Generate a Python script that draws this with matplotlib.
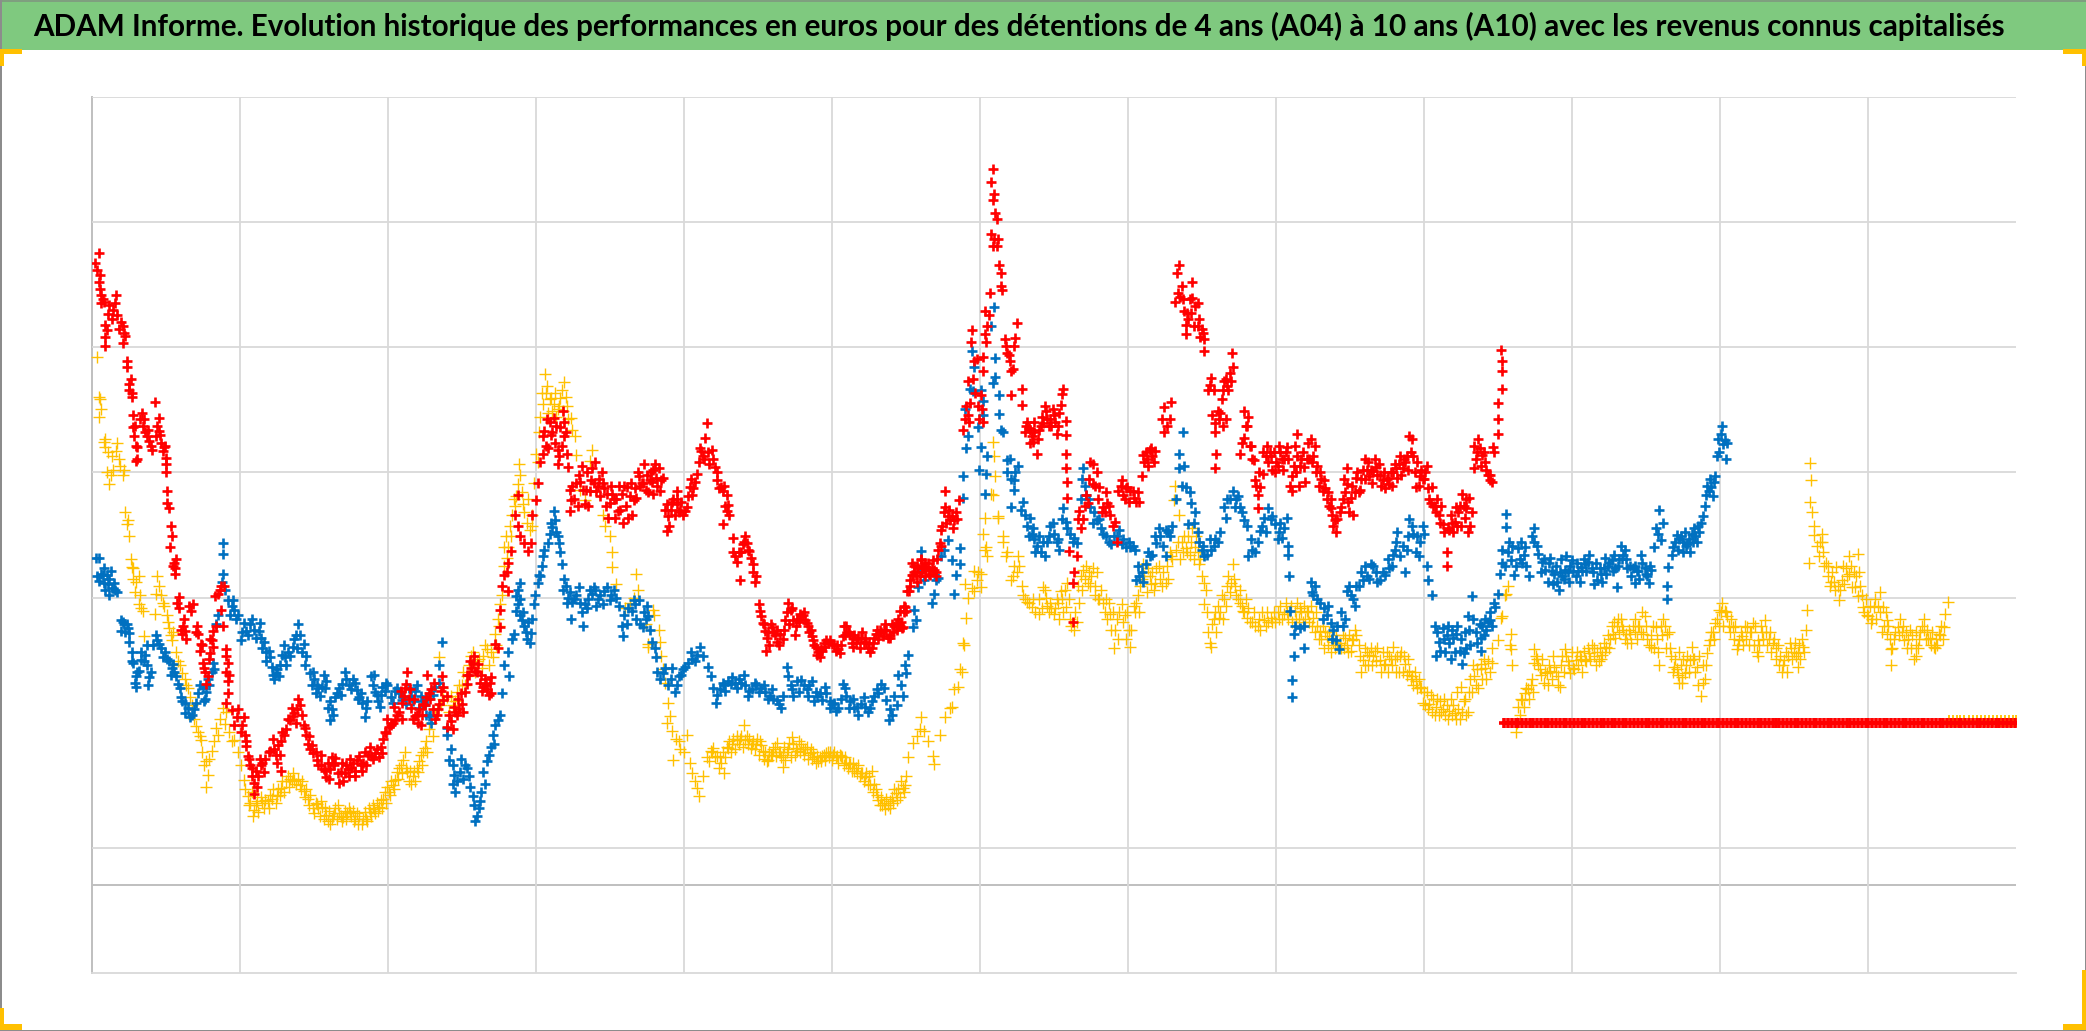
import matplotlib
matplotlib.use("Agg")
import matplotlib.pyplot as plt
from matplotlib.patches import Rectangle

TITLE = "ADAM Informe. Evolution historique des performances en euros pour des détentions de 4 ans (A04) à 10 ans (A10) avec les revenus connus capitalisés"

red_a = [(2,467),(5,475),(5,453),(6,448),(7,443),(8,440),(7,437),(9,438),(18,443),(17,437),(16,432),(12,429),(21.5,423),(23,420),(25,412.6),(23.5,407),(10,421),(10,412),(10,405),(11,417),
(26.5,394),(26.5,389.5),(28,376.6),(30,369.6),(30,367),(30.5,353.5),(30.5,344),(31.5,337),(33,330),(34,329),(33,318.6),(37.5,355),(39,350),(40,340),(41.5,337),(43,333.6),(45,326.6),
(47,362.6),(50,351),(50,341),(48,337),(52,332),(54,329),(55.7,321),(55.7,316),(55.7,310.5),(56.7,296),(56.4,287),(57.7,283.6),(59.4,269.6),(60.4,262.6),(58.7,254),(61.7,242),(62.4,238),(62.4,233.6),
(65.4,216.5),(65.4,208),(68.5,195),(70,190.6),(68,188.5),(75.8,211),(74.5,205.7),(79,195),(80,188.5),(82,181.5),(90.6,190.6),(89,185),(89,174.5),(91,179),(95,219),(97,224.5),(92.6,217.5),(97,207),(98.6,195),
(83.5,167),(84,163),(85,160),(86,151),(100.7,172),(102,167),(101,160),(102,153),(102,144),(101,137),(105,131.5),(109,126),(114,126),(107,120),(112,115),(115,113),(115.5,104.6),(117,97),(119,90),
(120.5,82),(122,77),(125,82),(123,86),(127,90),(129,85),(121.5,68.6),(134,101),(137,102.5),(141,98),(139,92),(142,86),(142,108),(144,113),(146,117),(149,124),(151,127),(152,129.5),(154,132),(156,135),
(159,120),(161,113),(162,106),(164,102),(166,99),(169,94),(172,90),(174,87.5),(176,81),(179,87.5),(181,92),(183,95.5),(186,77),(187.5,85),(190,84),(192.5,87.5),(195,88),(197.5,86),(199,94),(202,90),(204,92),(207.5,98),(210,97),(213,99),(218,99),
(219,110),(221,114),(223,119),(226,122),(228,124),(231,130),(233,137),(234.5,142),(235,148),(236,151),(238,140),(240,133),(243,127),(245,122),(248,128),(250,135),(251,141),(253,144),(255,147),
(258,125),(260,132),(261,136),(264,139),(266.5,142),(263,157),(266.5,118.6),(271.5,117),(273,130),(276,132),(278,136),(280,145),(281.5,151),(283,158),(285,163),(286.5,167),(288,161),(291.5,152),(294,149),(297,147),(300,144),(300,156),
(303,181.5),(305,178),(307,194),(307,207),(308.5,224.5),(310,232.6),(313,242),(312,235),(315,251),(313,220.7),(318,278),(320,293),(320,270),(322,262),(325,257),(328,251),(330,257),
(331,278),(333.5,289),(335,302),(339,324),(339,337),(341,330),(344,348),(347,351),(345,338),(348,332),(350,327),(350,316),(355,348),(355,337),(353,330),(358,314),
(359,297),(359,281),(364,302),(366,308),(369,297),(370.5,286),(374,296),(376,313),(377,302),(379,296),(381,305),(384,302),(387,294),(389,287),(392,290),
(395.5,281),(399,272),(402,299),(406,278),(407,289),(409,291),(411,307),(413,302),(416,297),(419,304),(422,312),(426,313),(424,306),(428,304),(422,294),
(432,286),(432.5,266),(433,277),(436,288),(439.5,296),(439.5,286),(442,282),(446,281),(449.5,299),(451,293),(453,303),(454.5,309),
(458,326),(459,322),(462,347),(461,336),(463,325),(466,327),(468,314),(469.5,304),(473,299),(475,300),(477,293),(478,285.5),(477,281),(474.5,271),
(481.5,261),(483,247),(484.5,243),(486,250),(491,262),(492,257),(494,251),(496.5,241),(498,228),(499,232),(487,229)]
red_b = [(501.5,211),(502,206),(503,202),(505,196),(506,191),(506.5,176),(511,194),(513,188),(514.5,183),(517,189),(521,199),(523,212),(525,207),(527,199),(528,188),(530,200),(532,204),(534,203),(536,199),(538,195),(540,192),
(542,184),(544.5,179),(546,175),(547,171),(549,176),(551,179),(553,182),(554.5,184),(558,180),(561,177),(563,180),(567,195),(564.5,187),(569,190),(572,186),(572,179),(575,185),(578,186),(580,183),(582,182),(585,175),(587,182),
(589.5,189),(592,192),(596,196),(594.5,187),(597,192),(599.5,186),(602,190),(604.5,196),(607,195),(609.5,194),(607,206),(611,209),(612.5,221),(614.5,229),(616,242),(618,235),(619.5,233),(623,244),(625,238),(627,239),(630,233),(633,237),(635,245),
(637,257),(638,267),(641,284),(641,296),(643,277),(645,274),(648,274),(651.5,289),(610,205),(609,193),(614,221),(616,233),(620,240),(623,245),(624,235),(629,237),(634,235),(638,255),
(654.5,342),(658,353),(658,379),(661,417),(660.5,408),(663,394),(668,368),(666,360),(670,348),(670,386),(670,397),(671,414),(671,431),(675,445),(676,489),(677,480),(680,480),(679,505),(680,500),(677,538),(676,528),(678,519),(677,515),(682,466),(683,460),(684,447),
(687,405),(688,400),(690,394),(691,386),(694,411),(695,422),(691,368),(699,373),(699,361),(703,348),(701,340),(704,343),(706.5,337),(708,340),(710,324),(705,332),(713,345),(717,356),(720,350),(723,353),(721,345),(725,339),(728,361),(730,373),(729,369),(732,349),(732,338),(732,324),(732,313),(733,303),(733,291),
(742,281),(740,247),(738,235),(737,227),(737,198),(734,251),(747,293),(749,305),(752,316),(752,301),(755,310),(757,299),(748.5,287),(760,284),(763,287),(765,278),(768.5,273),(770,258),(774,304),(775,293),(778,299),(782,296),(785,288),(783,291),(789,307),(790,323),(793,320),(795,327),(797,322),(799,326),(804,350),(805.5,359),(811,363),(808,345),(806,340),(810,350),
(815.5,460),(817,466),(819,450),(814,438),(818,442),(821,431),(822,421),(822,414),(824,425),(827,453),(827,441),(831,437),(831,420),(834,418),(836,410),(836,401),(839,372),(841,381),(842,353),(844,347),(846,356),(851,379),(853,375),(856,379),(856.5,400),(857.5,389),(849,365),(852.5,350),(844,340),(845,324),(844,313),
(866,356),(868,345),(866,336),(864,332),(862.5,324),(870,330),(873,319),(874,304),(880,309),(876,293),(876,283),(878,299),(883,330),(885,325),(886,322),(889,310),(891,315),(893,325),(896,320),(898,329),(902,307),(901.5,296),(903,315),(906,339),(906,322),(909,320),(911,314),(912,303),(916,335),(918,322),(921,315),(923,310),(926,304),(925,296),(929,295),(931,290),(931,283),(935,265),(934,274),(939,284),(943,313),(943,301),(946.5,291),(948,278),
(950,306),(953,297),(956.5,320),(958,312),(960,307),(963,311),(965,314),(968,308),(970,304),(973,305),(975,301),(978,310),(980,313),(982,316),(985,313),(987,318),(990,337),(988,322),(991,325),(993,322),(995,299),(998,307),(1000,305),(1002,310),
(1007,299),(1006,287),(1009,285),(1012,278),(1015,271),(1018,250),(1018,240),(1020,267),(1022,272),(1025,284),(1024,273),(1027,280),(1030,294),(1032,276),(1034,265),(1035,291),(1033,283),
(1039,330),(1042,335),(1039,313),(1041,325),(1045,323),(1047,318),(1050.5,304),(1049,308),(1053,329),(1057,339),(1057,350),(1056.5,362),(1060,373),(1059.5,386),(1059,402),(1059.5,394)]
red_c = [(4,462),(6,458),(13,436),(15,425),(19,428),(20,418),(24,415),(28,372),(29,380),(32,345),(34,320),(36,350),(38,345),(42,342),(44,330),(49,345),(51,338),(53,326),(55,330),(61,240),(63,245),(64,212),(67,192),(69,200),(71,185),(73,210),(78,190),(81,176),(83,180),(87,157),(88,170),(90,184),(93,195),(96,222),(99,225),(101,177),(103,158),
(110,132),(113,120),(116,108),(118,95),(120,88),(124,74),(126,95),(128,92),(130,95),(133,100),(136,110),(138,98),(140,105),(143,115),(147,125),(150,133),(153,122),(155,140),(158,128),(160,118),(163,112),(165,105),(168,100),(170,90),(172,98),(175,86),(177,92),(178,80),(180,96),(182,90),(185,84),(188,92),(189,78),(191,90),(193,82),(194,95),(196,92),(198,82),(201,97),(203,86),(205,100),(206,90),(209,104),(211,95),(214,102),(216,96),(217,104),(220,115),(222,125),(225,120),(227,134),(229,128),(232,146),(233,125),
(237,160),(239,147),(241,125),(242,140),(244,128),(246,132),(247,120),(249,136),(252,158),(254,140),(256,132),(257,152),(259,128),(262,146),(264,149),(268,128),(270,123),(272,134),(274,128),(275,140),(277,144),(279,130),(282,158),(284,168),(287,172),(289,160),(290,166),(292,158),(293,146),(295,155),(296,150),(298,143),(299,152),
(337,318),(340,341),(342,350),(343,328),(346,340),(349,345),(351,322),(352,344),(354,356),(356,340),(357,324),(360,289),(361,300),(362,290),(365,285),(367,303),(368,315),(371,297),(372,310),(373,285),(375,304),(378,318),(380,300),(382,292),(383,310),(385,298),(386,285),(388,276),(390,300),(391,294),(393,276),(394,290),(396,300),(397,282),(398,294),(400,300),(401,285),(403,276),(404,292),(405,302),(408,298),(410,310),(412,300),(414,302),(415,316),(417,308),(418,295),(420,310),(421,303),(423,316),(425,300),(427,296),(429,306),
(431,282),(434,270),(435,282),(437,290),(438,278),(440,290),(441,280),(443,288),(444,278),(447,284),(448,292),(450,305),(452,298),(456,318),(457,328),(460,320),(464,316),(467,320),(470,310),(471,298),(474,296),(476,285),(479,278),(482,250),(488,250),(489,256),(490,258),(493,252),(495,246),(497,235),
(504,197),(507,186),(508,190),(509,180),(510,196),(512,190),(515,192),(516,180),(519,185),(520,192),(522,205),(524,196),(526,208),(529,195),(531,198),(533,202),(535,205),(537,197),(539,190),(541,187),(543,180),(545,173),(548,177),(550,182),(552,184),(556,181),(559,176),(560,180),(562,174),(565,195),(566,188),(568,190),(570,188),(571,182),(573,188),(574,182),(576,186),(577,178),(579,190),(581,186),(583,178),(584,182),(586,178),(588,186),(590,192),(591,185),(593,190),(595,192),(598,186),(600,188),(601,196),(603,195),(605,192),(606,200),(608,198),(610,210),(612,206),
(615,225),(617,233),(618,240),(620,228),(621,238),(622,232),(624,240),(626,232),(628,242),(629,234),(631,238),(632,244),(634,232),(636,252),(639,270),(640,280),(642,272),(644,282),(646,277),(647,268),(649,280),(650,275),(626,242),
(656,350),(657,360),(659,348),(660,362),(662,380),(664,370),(665,395),(667,350),(669,358),(672,408),(673,420),(674,428),(681,485),(678,485),(683,450),(686,410),(689,398),(692,388),(693,405),
(702,345),(705,342),(707,333),(708,348),(711,335),(712,342),(714,352),(715,347),(716,360),(718,350),(719,345),(722,358),(724,348),(726,345),(727,355),
(741,275),(743,268),(745,275),(746,285),(750,318),(754,300),(756,290),(759,280),(761,280),(762,295),(764,285),(767,270),(771,296),(773,300),(776,290),(777,298),(779,288),(780,296),(786,295),(787,288),(791,318),(792,325),(794,315),(796,328),(798,318),
(816,445),(820,440),(823,430),(825,440),(826,430),(828,420),(829,435),(832,425),(833,412),(835,415),(840,376),(843,372),(847,350),(850,372),(852,380),(854,372),(855,385),(848,355),(850,345),
(867,345),(869,352),(871,330),(872,320),(875,300),(877,310),(880,325),(882,322),(884,318),(887,312),(888,325),(890,318),(892,330),(894,320),(895,312),(897,325),(899,320),(900,300),(904,330),(905,310),(907,300),(908,315),(910,325),(913,320),(914,332),(915,320),(917,318),(919,330),(920,310),(922,300),(924,305),(927,298),(928,290),(930,285),(932,278),(933,270),(936,275),(938,280),(940,290),(941,305),(942,295),(944,288),(945,280),(947,300),(949,295),(951,310),(952,295),(954,305),(955,312),(957,305),(959,318),(961,312),(962,302),(964,320),(966,308),(967,316),(969,300),(971,310),(972,298),(974,306),(976,310),(977,300),(979,316),(981,306),(983,322),(984,308),(986,320),(989,312),(992,335),(994,310),(996,318),(997,300),(999,312),(1001,305),(1003,315),(1004,298),(1005,290),(1008,285),(1010,280),(1011,290),(1013,272),(1014,285),(1016,265),(1019,268),(1021,278),(1023,265),(1026,270),(1028,285),(1029,270),(1031,285),(1033,290),(1036,270),(1037,280),
(1040,320),(1043,328),(1044,315),(1046,325),(1048,312),(1051,308),(1052,303),(1054,325)]
red_flat_x = [1061,1064,1067,1070,1072,1075,1078,1081,1083,1086,1089,1092,1094,1097,1100,1103,1106,1108,1111,1114,1117,1120,1122,1125,1128,1131,1134,1136,1139,1142,1145,1148,1151,1153,1156,1159,1162,1165,1168,1170,1173,1176,1179,1181,1184,1187,1190,1193,1196,1198,1201,1204,1207,1210,1212,1215,1218,1221,1223,1226,1229,1232,1235,1237,1240,1243,1246,1249,1252,1254,1257,1260,1263,1266,1268,1271,1274,1277,1280,1282,1285,1288,1291,1294,1296,1299,1302,1305,1307,1310,1313,1316,1319,1321,1324,1327,1330,1333,1335,1338,1341,1344,1347,1349,1352,1355,1358,1361,1363,1366,1369,1372,1375,1377,1380,1383,1386,1389,1391,1394,1397,1400,1403,1405,1408,1411,1414,1417,1419,1422,1425,1428,1431,1433,1436,1439,1442,1445]
red_flat_y = [122]

blue_a = [(3,246),(5,245.5),(5,228.5),(7,234),(9,238),(9,227),(11,233),(13,230),(13,218),(15,223),(16.5,227),(19,220),(21.5,199),(24,196),(26.5,196),(21.5,191),(28,189.5),(28,183),(30,175),(31,167),(33,157),(33,149),(35,161),(36.5,169),(40,173),(41.5,165),(43,156),(41.5,180),
(48,188),(50,181),(52,178),(55,175),(58,168),(60,163),(62,160),(63.5,157),(66,148),(67,141),(70,137),(70,129),(73.5,126),(77,132),(80,144),(83.5,148),(85,140),(87,155),(90,160),(91,167),
(95,203),(93.5,196),(98.6,257),(98.6,249),(98.6,234),(97.6,228),(100,222),(102,214),(105,210),(107,207),(110,203),(114,197),(112,184),(115.5,191),(119,196),(122,192),(125.5,191),(127,186),(129,183),(130.5,175),(134,171),(135.5,164),(137,155),(138,159),(140.5,157),
(143,173),(145,171),(147,175),(151,179),(153,188),(155,196),(156,188),(159,181.5),(161,172),(164,159),(167,154.5),(168,144),(170,148),(172.5,149),(176,153),(177.5,133),(178.5,124),(180,132),(182.5,141),(186,148),(188,151),(191,154.5),(196,154.5),(199,146.5),(201,141),(203,137),(206,133),
(209.5,157),(211,150.5),(214,143),(216.5,134),(218,149),(221,152),(224.5,141),(228,146),(231,144),(233,139),(236,136),(240,142),(243,146),(246,133),(248,138),(251,128),(253,127),(255,122),(258,149),(261,165),(263,183),(261,152),(266.5,118),(266.5,113),
(270,102),(268,94),(271.5,90),(271.5,76),(273,70),(276.5,85),(280,90),(283,82),(286.5,67),(291.5,63),(288,48),(290.5,58),(295,76),(296.5,93),(300,103.5),(301.5,113),(303,120),(307,128),(308.5,144),
(310,165),(313,175),(313.5,157),(316,185),(317,189),(318.5,206),(320,222),(321.5,227),(320,211),(321.5,203),(323,199),(325,195),(327,185),(330,189.5),(332,211),(335,227),(337,232),(339,247),(342.5,257),(346,269),(347.5,281),(349,265),(351,257),(353,241),(355,230),(354,222),(358,216),(360,200),(362,215),(366,224),(369,195),(370.5,211),(373,215),(375.5,219),(378,222),(380.5,215),(384,211),(387,224),(390,218),(394,216),
(399,187),(400,203),(403,208),(405.5,206),(408,211),(411,214),(414,194),(416,200),(418,202),(421,183),(424,171),(427,155),(429,159),(431,163),(438,145),(436,163),(441,157),(444,162),(448,167),(451,170),(454.5,173)]
blue_b = [(457,179),(459.5,172),(463,164),(465,157),(467,148),(469,137),(472,147),(475,150),(478,153),(480,151),(483,152),(486,155),(490,158),(493,142),(496,147),(499,150),(503,148),(506,145),(509.5,142),(512,140),(514.5,139),(517.5,133),(519.5,142),
(522,164),(523,157),(525,150),(527,142),(529.5,153),(533,154),(537,147),(539,150),(541,153),(543,138),(545,142),(547,144),(551,149),(554.5,138),(554.5,133),(558,137),(561,133),(564.5,151),(567,142),(570,138),(573,133),(575,134),(578,136),(581,134),(584.5,133),(588,142),(590,147),(593,151),(597,139),(599.5,132),(599,124),(603,142),(606,158),(609.5,142),(612,159),(613,173),
(617,194),(618,207),(619,199),(621,224),(623,251),(623,236),(625,229),(631,212),(633,219),(634.5,229),(636,231),(638,247),(640,252),(643,259),(646,244),(649.5,233),(652,241),(652,253),(648,219),(654.5,307),(654.5,291),
(657,328),(658,337),(656,358),(659.5,373),(662,371),(663,389),(661,401),(666,344),(668,329),(669.5,364),(667,312),(672,309),(671,294),(682,368),(682,354),(683,342),(673,322),(677,377),(678,434),(676,420),(679,396),(679,382),(685,340),(668,372),(670,353),
(688,319),(688,310),(691,305),(693,304),(696,315),(693,297),(691,284),(700,288),(701,278),(705,276),(706.5,264),(708,260),(710,255),(713,250),(716.5,247),(718,258),(720,270),(723,264),(725,258),(727,252),(730,283),(732,273),(735,264),(738,261),(740,257),
(745,313),(746,300),(747,293),(750,284),(753,280),(755,274),(758,268),(760,264),(764,258),(768,262),(772,267),(775,260),(777,254),(780,254),(784,252),(785,229),(787,232),(789,235),(792,241),(795,247),(800,257),(803,262),(807,267),(807,247),(809,265),(812,270),(815,290),(817,324),(820,340),(817,313),(822,299),(824,271),(826,287),(829,280),(832,258),(834,252),(836,247),(841,252),(843,255),(846,258),
(851,284),(853,290),(857.5,296),(860,290),(862.5,284),(866,274),(869,247),(872,252),(876,258),(878,266),(881,276),(884,283),(887,277),(889,271),(892,265),(894.5,261),(898,276),(899,255),(899,248),(899.5,232),(900,206),(903,189),(904.5,195),(903,172),(902,154),(902,141),(908,193),(911,195),(911,178),
(916,228),(918,218),(921,215),(923,212),(926,208),(928,203),(931,197),(933,192),(935,184),(937,177),(940,195),(943,221),(946,218),(948,215),(950,225),(955,229),(958,232),(961.5,241),(965,235),(968,229),(972,233),(975,238),(978,248),(980,258),(983,247),(988,252),(987,235),(990,275),(993,264),(996,262),(998,258),(1001,264),(997,247),(1004,229),(1007,218),
(1009,195),(1010,172),(1012,183),(1015,193),(1018,188),(1020,182),(1023,186),(1025,189),(1028,176),(1030,166),(1033,178),(1037,217),(1035,192),(1040,190),(1044,186),(1044,176),(1046.5,188),(1049,198),(1050.5,199),(1054,212),(1054.5,209),(1057,219),(1058.5,234),(1060,252),(1060,242),(1063,279),(1063,269),(1065,258),(1066.5,244),(1069,233),(1072,253),(1075,242),(1077,254),(1080,232),(1083.5,268),(1084,258),(1087,249),(1090,243),(1092,237),(1095,242),(1097,236),(1099,234),(1101,228),(1102.5,222),(1105,232),(1108,247),(1107,237),(1111,240),(1115,232),(1117,236),(1119,239),(1122,241),(1124,243),(1127,238),(1131,229),(1134,234),(1136.5,238),(1139,240),(1142,244),(1146,224),(1145,238),(1149.5,255),(1151,248),(1153,245),(1156,240),(1158,238),(1159.5,227),(1162,236),(1165,242),(1168,234),(1170,227),(1172,237),
(1174,254),(1175.5,268),(1178,282),(1179.5,259),(1177,264),(1181,272),(1183.5,215),(1183.5,225),(1184.5,239),(1187.5,248),(1191,263),(1193,260),(1195.5,258),(1198,255),(1201,250),(1202.5,264),(1205,262),(1208,265),(1210.5,277),(1212,285),(1213,293),(1215,296),(1217,299),(1220,307),(1221,322),(1224,339),(1226,331),(1227,334),(1228,320)]
blue_c = [(470,143),(474,152),(476,146),(481,156),(485,148),(488,152),(491,150),(494,146),(498,152),(501,145),(505,150),(508,140),(511,147),(516,136),(526,147),(531,145),(535,150),(538,142),(544,145),(549,139),(552,144),(556,136),(559,131),(563,140),(566,148),(569,133),(572,140),(576,128),(580,141),(583,130),(586,138),(591,144),(595,148),(601,128),(605,135),(608,150),(611,165),
(4,232),(8,233),(10,222),(12,226),(14,236),(17,222),(23,198),(25,190),(27,193),(30,168),(32,152),(34,160),(37,175),(39,168),(42,150),(44,160),(46,180),(49,184),(53,171),(56,170),(59,158),(61,166),(65,151),(68,138),(72,133),(75,128),(78,137),(81,150),(84,138),(86,145),(88,150),(92,162),
(104,203),(106,214),(108,200),(113,190),(117,188),(120,200),(123,186),(126,197),(128,178),(131,168),(133,176),(136,158),(139,162),(141,165),(144,180),(146,165),(149,172),(152,185),(154,178),(158,175),(160,165),(165,150),(166,160),(169,150),(171,142),(174,158),(175,148),(179,138),(181,128),(184,144),(187,143),(190,160),(193,150),(195,147),(198,152),(200,140),(202,144),(205,126),(207,138),
(212,158),(213,145),(215,138),(217,143),(220,146),(222,150),(226,137),(229,148),(234,141),(238,148),(241,138),(244,150),(247,142),(250,135),(252,140),(254,128),(256,143),
(272,83),(274,78),(277,95),(279,80),(282,88),(284,74),(287,60),(289,52),(292,70),(294,85),(298,98),(302,106),(305,124),
(319,217),(322,215),(324,205),(326,190),(328,198),(329,182),(331,200),(333,218),(336,233),(338,240),(340,252),(344,264),(345,272),(348,274),(350,262),(352,250),(356,225),(357,212),(359,220),(361,213),(364,218),(367,212),(368,205),(372,208),(374,222),(377,224),(379,210),(382,218),(385,221),(389,214),(392,222),(396,210),(398,195),(402,196),(407,214),(409,200),(412,196),(415,205),(417,210),(419,192),(423,178),(425,160),(433,150),(435,155),(440,150),(443,158),(446,164),(450,175),(453,168),
(690,320),(694,310),(698,282),(703,270),(704,262),(707,268),(709,250),(712,262),(715,258),(719,262),(722,272),(726,260),(729,275),(733,268),(737,258),(743,290),(744,305),(749,290),(752,272),(757,275),(762,262),(766,256),(770,262),(774,256),(779,258),(782,255),(786,240),(790,228),(794,250),(797,248),(799,262),(802,268),(805,255),(810,262),(819,300),(821,315),(825,295),(828,272),(831,265),(835,255),(838,248),(840,260),(844,260),(848,265),(852,276),(855,290),(859,284),(861,292),(864,280),(868,270),(871,260),(874,250),(879,270),(882,265),(886,275),(891,260),(893,272),(896,268),
(917,220),(919,225),(925,200),(929,210),(932,185),(936,195),(939,205),(942,200),(945,225),(949,210),(952,225),(954,235),(957,240),(960,230),(963,240),(966,228),(970,235),(974,245),(977,240),(979,252),(981,265),(985,255),(989,262),(992,270),(995,250),(1000,270),(1003,240),
(1011,190),(1013,176),(1016,185),(1017,175),(1019,195),(1021,170),(1022,192),(1024,175),(1026,195),(1029,185),(1031,174),(1032,190),(1034,202),(1036,180),(1038,200),(1041,182),(1043,196),(1045,195),(1047,200),(1048,192),(1051,205),(1052,195),
(1062,240),(1064,250),(1067,255),(1070,240),(1073,245),(1074,258),(1076,248),(1078,240),(1082,262),(1086,255),(1089,235),(1091,245),(1094,228),(1096,246),(1098,226),(1100,240),(1103,235),(1104,245),(1106,230),(1109,235),(1110,228),(1112,244),(1113,236),(1116,242),(1118,228),(1120,236),(1121,245),(1123,236),(1125,248),(1128,235),(1129,226),(1130,242),(1133,238),(1135,228),(1137,246),(1138,234),(1140,242),(1143,236),(1144,248),(1147,240),(1148,245),(1150,245),(1152,252),(1154,238),(1157,232),(1160,240),(1161,236),(1163,230),(1164,248),(1167,238),(1169,232),(1171,240),
(1188,254),(1190,258),(1192,252),(1194,262),(1196,250),(1197,265),(1199,256),(1200,260),(1203,258),(1204,268),(1206,258),(1207,270),(1209,272),(1214,300),(1216,305),(1218,292),(1219,303),(1222,335),(1223,325),(1225,345),(1229,332)]

yellow_a = [(4,396.5),(5.5,367),(6.5,357.5),(5.5,351.5),(9,333),(10,329),(11.5,310),(13,301),(18,326),(20,320),(23,308),(25,280),(26.5,271),(28,262),(30,239),(31,230),(35,232),(32,220),(35,211),(38,206),
(49,232),(48,219),(47,204),(53,212),(56,203),(58,193.5),(60,184),(39,187),(65,168),(68,159),(71,150.5),(73.5,141),(78.5,119.5),(80,115),(82,109),(85.5,93),(87,83),(86,74),(90,101),(95,113),(98.5,133),(100,121),(107,109),(110,100),(112,90),(114,79),
(117,67),(119,62),(122,56.5),(124,63),(128,62),(132,63),(135,65),(139,67),(142,73),(145.5,78),(149,80),(152,79),(156,75),(159,71),(162,65),(166,58),(169,61),(173,59),(176,53),(179,46),(181,52),(183,58),(186,54),(189,51),(192,54),(194,55),(198,50),(203,46),(206,50),(209,55),(212,57),(216,59),(219,65),(223,70),(226,75),(228,79),(231,88),(234,94),(237,85),(241,82),(244,88),(246,93),(250,103),(253,117),(258,128),(261,171),(263,148),(266.5,141),(270,142),(273,138.5),(278,150),(281.5,157),(285,172),(289,168),(293,163),(296.5,177),(301.5,171),(303,189),(305,200),(307,211),(309.5,254),(312,246),(315,262),(318,285),(320,301),(321,316),(324,286),(329,267),(330.5,278),(332,302),(333.5,324),(339,361.5),(340.5,384),(342,375),(345,366),(347,361.5),(350,357.5),(352,366),(355,378),(356,367),(360,351),(363,337),(364,323),(375.5,327),(374,318.5),(367,297),(370.5,289),
(384,278),(385.5,270),(389,262),(390.5,250),(391,239),(394,226),(409,234),(410,222),(400.5,208),(404,212),(407,216),(416,196),(422.5,203),(426,192),(417.5,181.5),(418,179),(422,207),(427,183),(428,172),(429.5,162),(431,152),(433,137),(434.5,127),(432,122),(436,116),(439,110),(441,108),(447,113),(442,102),(437,94),(445,100),(449.5,92),(451,84),(453,78),(454.5,73),(456,67),(459.5,82),(462,96),(465,101),(467,103),(470,97),(473,92),(475,84),(478,103),(481,106),(484.5,109),(488,112),(490,120),(491,109),(496,106),(499,106),(502,108),(504,101),(507,93),(510,98),(512,102),(516,100),(519.5,98),(519,89),(523,102),(526,111),(528,98),(530,101),(533,106),(536,102),(539.5,99),(543,96),(546,93),(549,97),(552,99),(557,98),(560,97),(563,97),(567,92),(570,91),(574.5,88),(578,84),(581,81),(586,86),(588,76),(590,68),(591,64),(594,60),(596,57),(598,60),(599.5,63),(604.5,69),(609.5,73),(612,82),(613,96)]
yellow_b = [(617,107),(620,112),(622,117),(623,126),(625,116),(628,108),(632,97),(633,91),(637,113),(641,126),(644.5,133),(646,134),(648,147),(651,149),(652,162),(653.5,160),(654.5,182),(655,180),(657,201),(658,216),(656,226),(663,236),(661,223),(663,221),(665,229),(666,235),(668,234),(668,224),(670,264),(671,252),(672,254),(671,276),(673,247),(677,293),(679,307),(677,333),(678,322),(676,294),(681,276),(681,277),(684.5,262),(685,258),(687,247),(688,250),(692,232),(691,229),(696,247),(695,235),(700,218),(703,213),(706.5,209),(715,224),(711.5,204),(717,216),(720,212),(723,204),(726,212),(728,221),(733,227),(732,209),(738,192),(740,198),(742,212),(745,237),(748.5,227),(752,238),(753.5,218),(757,215),(760,212),(765,204),(768.5,192),(768,178),(774,211),(776,203),(779,192),(780,179),(785,212),(788,225),(790,241),(795,232),(800,238),(799,227),(803,230),(807,227),(811,247),(815,252),(819,258),(817,278),(814,300),(813,289),(822,253),(827,268),(829,254),(832,241),(836,227),(836,211),(841,179),(842,196),(847,201),(851,215),(857.5,241),(856,227),(860,218),(862.5,212),(865,206),(868,201),(872,198),(876,195),(881,199),(886,201),(891,205),(896,204),(900,206),(904.5,206),(908,208),(913,206),(918,201),(921,195),(923,191),(928,187),(933,183),(938,182),(943,180),(947,184),(950,188),
(955,169),(956.5,178),(960,173),(963,172),(968,169),(972,166),(975,172),(978,179),(983,172),(987,166),(990,161),(992,157),(995,153),(998,149),(1000,137),(1005,136),(1010,134),(1015,132),(1020,131),(1024,129),(1029,149),(1031,138),(1034,130),(1039,157),(1044,166),(1044,162),(1047,163),(1050.5,160),(1052,178),(1052,167),(1057,184),(1059,201),(1060,202),(1062,218),(1063,219),(1064,225),(1065.5,180),(1066.5,189),(1066.5,177),(1067.5,165),
(1070,115),(1072,134),(1075,139),(1077,144),(1079,147),(1081.5,150),(1084,177),(1084,167),(1086,170),(1088,162),(1091,152),(1093.5,159),(1096,161),(1099,164),(1101.5,157),(1103.5,149),(1107,177),(1109,168),(1111,159),(1113,163),(1115,169),(1118,172),(1122,169),(1125,174),(1128.5,178),(1132.5,168),(1135,173),(1138,179),(1141,185),(1143,189),(1146,195),(1149,200),(1151,192),(1154,182),(1153,189),(1156,189),(1159.5,190),(1163,195),(1167,202),(1166,189),(1169,185),(1171.5,179),(1175.5,194),(1178,165),(1181,200),(1184,189),(1186,178),(1189,164),(1193,175),(1193,152),(1195,156),(1197,159),(1202.5,179),(1201,169),(1204,170),(1206.5,164),(1209,142),(1210.5,152),(1214,174),(1216,184),(1218,190),(1220,197),(1222.5,207),(1225,212),(1227,206),(1229,202),(1233,194),(1236,177),(1238,184),(1240,187),(1244,194),(1246,190),(1248,197),(1252,172),(1252,184),(1255,190),(1257.5,199),(1260,185),(1263,182),(1265.5,178),(1270,160),(1272,169),(1276,182),(1279,175),(1282,164),(1282,174),(1286,179),(1288,192),(1289,207),(1291,317),(1292,304),(1291,288),(1292.5,280),(1294,270),(1294,263),(1290.5,242),(1300.5,264),(1300.5,258),(1296.5,255),(1298,247),(1303,242),(1304.5,232),(1307,228),(1311,239),(1310,222),(1313,214),(1315,229),(1318,238),(1320.5,247),(1320.5,234),(1327,249),(1326,232),(1323,224),(1327,217),(1331,209),(1334,203),(1337,197),(1339.5,209),(1343.5,220),(1346,209),(1349,199),(1349,189),(1352,165),(1352,177),(1354,185),(1357,194),(1360,190),(1362,184),(1366.5,192),(1370.5,172),(1370.5,180),(1374,190),(1377,200),(1377,192),(1381,186),(1384,179),(1388,189),(1392,194),(1393,204),(1395,213)]
yellow_c = [(6,365),(10,335),(12,325),(14,308),(15,322),(16,312),(19,332),(21,315),(24,312),(27,274),(29,245),(31,238),(33,228),(36,218),(37,208),(50,225),(52,218),(54,210),(57,198),(59,188),(61,190),(63,175),(66,165),(70,155),(72,148),(75,135),(77,125),(81,112),(83,100),(84,90),(88,95),(92,108),(93,118),(96,125),(101,130),(103,115),(105,108),
(115,72),(118,60),(120,70),(121,52),(123,60),(125,55),(127,66),(129,58),(130,64),(133,58),(134,68),(136,72),(138,62),(140,72),(141,68),(143,78),(144,70),(147,82),(148,74),(150,78),(151,84),(153,76),(155,80),(157,72),(158,78),(160,66),(161,72),(163,60),(164,68),(167,54),(168,62),(170,58),(171,52),(172,63),(174,50),(175,58),(177,48),(178,56),(180,50),(182,54),(184,50),(185,60),(187,52),(188,48),(190,56),(191,50),(193,58),(195,52),(196,56),(197,48),(199,54),(200,46),(201,52),(204,50),(205,55),(207,48),(208,58),(210,52),(211,60),(213,54),(214,62),(215,56),(217,64),(218,58),(220,70),(221,62),(222,74),(224,68),(225,78),(227,72),(229,85),(230,80),(232,90),(233,84),(235,100),(236,88),(238,78),(239,86),(240,76),(242,86),(243,78),(245,85),(247,98),(248,90),(249,100),(251,108),(252,100),(255,122),(256,112),
(262,135),(264,140),(268,130),(271,135),(274,145),(276,150),(279,160),(280,150),(283,165),(286,175),(288,160),(291,170),(294,172),(295,180),(298,165),(300,175),(304,180),(306,195),(308,218),(310,240),(311,262),(313,254),(314,270),(316,278),(317,290),(319,292),(322,308),(323,295),(325,280),(327,272),(328,290),(331,270),(335,318),(336,340),(337,352),(338,370),(341,370),(343,355),(344,365),(346,356),(348,370),(349,352),(351,360),(353,372),(354,356),(357,360),(358,350),(361,342),
(464,93),(466,100),(468,96),(471,88),(472,96),(474,100),(476,96),(477,104),(479,108),(480,100),(482,110),(483,102),(485,112),(486,106),(487,110),(489,104),(492,112),(493,106),(494,110),(495,103),(497,108),(498,102),(500,110),(501,98),(503,105),(505,95),(506,100),(508,94),(509,100),(511,98),(513,104),(514,97),(515,107),(517,100),(518,96),(520,104),(521,94),(522,100),(524,107),(525,96),(527,106),(529,103),(531,108),(532,100),(534,102),(535,98),(537,104),(538,95),(540,102),(541,95),(542,100),(544,92),(545,97),(547,96),(548,93),(550,98),(551,94),(553,100),(554,96),(555,100),(556,94),(558,100),(559,96),(561,92),(562,98),(564,96),(565,90),(566,96),(568,88),(569,92),(571,86),(572,92),(573,86),(575,84),(576,90),(577,82),(579,84),(580,78),(582,84),(583,76),(584,82),(585,75),(587,70),(589,72),(592,60),(593,66),(595,62),(597,65),(600,58),(601,66),(602,62),(603,72),(605,64),(606,72),(607,66),(608,78),(610,70),(611,75),
(1071,122),(1073,128),(1074,140),(1076,134),(1078,148),(1080,140),(1082,155),(1083,145),(1085,172),(1087,165),(1089,158),(1090,170),(1092,160),(1094,150),(1095,165),(1097,155),(1098,172),(1100,160),(1102,150),(1104,165),(1105,172),(1106,160),(1108,172),(1110,165),(1112,175),(1114,162),(1116,175),(1117,165),(1119,170),(1120,160),(1121,176),(1123,168),(1124,178),(1126,170),(1127,180),(1129,172),(1130,165),(1131,175),(1133,178),(1134,170),(1136,182),(1137,175),(1139,188),(1140,178),(1142,195),(1144,198),(1145,186),(1147,200),(1148,190),(1150,195),(1152,185),(1155,192),(1157,182),(1158,195),(1160,200),(1161,185),(1162,195),(1164,190),(1165,205),(1168,195),(1170,180),(1172,188),(1173,195),(1174,178),(1176,185),(1177,175),(1179,195),(1180,188),(1182,195),(1183,178),(1185,190),(1187,172),(1188,160),(1190,170),(1191,162),(1192,158),(1194,165),(1195,152),(1196,170),(1198,165),(1199,172),(1200,160),(1203,170),(1205,160),(1207,150),(1208,172),(1211,165),(1212,155),(1213,165),(1215,180),(1217,190),(1219,185),(1221,200),(1223,195),(1224,205),(1226,195),(1228,205),(1230,195),(1231,190),(1232,200),(1234,185),(1235,195),(1237,180),(1239,190),(1241,180),(1242,195),(1243,185),(1245,180),(1247,190),(1249,180),(1250,195),(1251,175),(1253,180),(1254,195),(1256,185),(1258,190),(1259,180),(1261,190),(1262,175),(1264,185),(1266,170),(1267,180),(1268,165),(1269,172),(1271,165),(1273,175),(1274,160),(1275,172),(1277,178),(1278,170),(1280,182),(1281,172),(1283,180),(1284,170),(1285,185),(1287,175),
(1299,258),(1301,250),(1302,240),(1305,240),(1306,225),(1308,235),(1309,228),(1312,225),(1314,222),(1316,240),(1317,226),(1319,232),(1322,240),(1324,235),(1325,224),(1328,235),(1329,225),(1330,218),(1332,205),(1333,215),(1335,202),(1336,210),(1338,200),(1340,215),(1341,200),(1342,210),(1344,205),(1345,190),(1347,195),(1348,205),(1350,195),(1351,185),(1353,178),(1355,190),(1358,188),(1359,200),(1361,195),(1363,190),(1364,178),(1365,185),(1367,178),(1368,188),(1369,170),(1371,190),(1372,178),(1373,185),(1375,195),(1378,185),(1379,192),(1380,185),(1382,180),(1383,190),(1385,178),(1386,185),(1387,180),(1389,188),(1390,195),(1391,185),
(693,240),(697,240),(699,225),(701,215),(704,212),(707,215),(709,205),(712,215),(714,208),(716,222),(718,210),(719,205),(721,208),(724,208),(725,215),(727,200),(729,215),(730,205),(731,222),(734,215),(735,200),(736,195),(739,205),(741,225),(743,232),(744,222),(746,230),(747,240),(749,235),(750,225),(751,232),(754,225),(755,235),(756,215),(758,222),(761,205),(762,215),(763,200),(764,212),(766,192),(767,205),(770,200),(771,185),(772,205),(775,198),(777,185),(778,205),(781,192),(783,210),(784,205),(786,218),(787,205),(789,230),(791,232),(793,220),(794,238),(796,226),(797,235),(798,222),(802,240),(804,225),(805,235),(808,240),(809,230),(810,250),(812,245),(816,258),(818,245),(820,250),(821,262),(823,250),(824,262),(825,248),(826,258),(828,245),(830,262),(831,250),(833,245),(834,232),(837,222),(838,205),(839,190),(840,182),(843,200),(844,205),(845,190),(846,210),(848,205),(849,218),(850,200),(852,210),(853,225),(854,232),(855,220),(858,230),(859,225),(861,215),(863,222),(864,210),(866,205),(867,215),(869,208),(870,198),(873,205),(874,195),(877,200),(878,192),(879,205),(882,195),(883,205),(884,198),(887,198),(888,205),(889,198),(892,200),(893,210),(894,200),(897,212),(898,205),(899,200),(901,210),(902,198),(905,200),(906,212),(907,200),(909,205),(910,198),(911,210),(912,200),(914,205),(915,198),(916,210),(917,195),(919,190),(920,205),(922,185),(924,185),(925,195),(926,178),(927,190),(929,180),(930,190),(931,175),(932,185),(934,178),(935,188),(936,180),(939,178),(940,188),(941,178),(942,186),(944,175),(945,188),(946,176),(948,185),(949,192),(952,180),(953,172),(954,160),(957,165),(958,175),(959,165),(961,178),(962,165),(964,176),(965,168),(966,178),(969,160),(970,175),(971,165),(973,175),(974,160),(976,170),(977,165),(979,170),(980,160),(981,172),(982,160),(984,175),(985,160),(986,172),(988,158),(989,170),(991,155),(993,150),(994,160),(996,148),(997,155),(999,148),(1001,145),(1002,135),(1003,145),(1004,132),(1006,143),(1007,130),(1008,140),(1009,128),(1011,140),(1012,128),(1013,138),(1014,130),(1016,140),(1017,128),(1018,135),(1019,125),(1021,140),(1022,128),(1023,135),(1025,125),(1026,145),(1027,132),(1028,125),(1030,130),(1032,140),(1033,128),(1035,145),(1036,155),(1037,145),(1038,165),(1040,150),(1041,162),(1042,148),(1045,155),(1046,170),(1048,155),(1049,168)]
yellow_flat_x = [1396,1399,1402,1404,1407,1411,1414,1417,1420,1423,1426,1429,1432,1435,1438,1441,1444,1446]
yellow_flat_y = [123]

x_grid = [111.2,222.4,333.6,444.8,556,667.2,778.4,889.6,1000.8,1112,1223.2,1334.4]
y_grid = [28,216,310,404,498,592]
x_limits = (0,1446)
y_limits = (-66,592)

W, H, DPI = 2086, 1031, 100
fig = plt.figure(figsize=(W/DPI, H/DPI), dpi=DPI, facecolor="white")
ax = fig.add_axes([92/W, 1-973/H, (2016-92)/W, (973-97)/H])
ax.set_xlim(*x_limits); ax.set_ylim(*y_limits)
ax.set_xticks(x_grid); ax.set_yticks(y_grid)
ax.tick_params(length=0, labelbottom=False, labelleft=False)
ax.grid(True, color="#D9D9D9", lw=1.3, zorder=0)
ax.axhline(0, color="#BFBFBF", lw=1.4, zorder=1)
for s in ["top","right"]:
    ax.spines[s].set_visible(False)
ax.spines["left"].set_color("#BFBFBF"); ax.spines["left"].set_linewidth(1.4)
ax.spines["bottom"].set_color("#D9D9D9"); ax.spines["bottom"].set_linewidth(1.3)
ax.spines["left"].set_zorder(1); ax.spines["bottom"].set_zorder(1)

def pts(*parts):
    merged = [p for part in parts for p in part]
    return [p[0] for p in merged], [p[1] for p in merged]

yx, yy = pts(yellow_a, yellow_b, yellow_c)
bx, by = pts(blue_a, blue_b, blue_c)
rx, ry = pts(red_a, red_b, red_c)
ax.plot(yx, yy, ls="", marker="+", ms=8, mew=1.0, color="#FFC000", zorder=2, clip_on=False)
ax.plot(yellow_flat_x, yellow_flat_y*len(yellow_flat_x), ls="", marker="+", ms=8.5, mew=1.3, color="#FFC000", zorder=3)
ax.plot(bx, by, ls="", marker="+", ms=6.5, mew=1.9, color="#0070C0", zorder=4)
ax.plot(rx, ry, ls="", marker="+", ms=6.5, mew=1.9, color="#FF0000", zorder=5)
ax.plot(red_flat_x, red_flat_y*len(red_flat_x), ls="", marker="+", ms=6.5, mew=2.6, color="#FF0000", zorder=5)

def px_rect(x0, y0, x1, y1, color, z=10):
    fig.patches.append(Rectangle((x0/W, 1-y1/H), (x1-x0)/W, (y1-y0)/H, transform=fig.transFigure,
                                 facecolor=color, edgecolor="none", zorder=z))

px_rect(0, 0, W, 50, "#7FC97F", 1)
px_rect(0, 0, W, 1.5, "#7F9F7F", 2)
px_rect(0, 1029.5, W, H, "#8C8C8C", 2)
px_rect(0, 0, 1.5, H, "#8C8C8C", 2)
px_rect(W-1.5, 50, W, H, "#8C8C8C", 2)
# selection handles
px_rect(0, 49, 22, 53.5, "#FFC000", 3)
px_rect(0, 49, 4, 66, "#FFC000", 3)
px_rect(2063, 49, W, 53.5, "#FFC000", 3)
px_rect(W-4, 49, W, 66, "#FFC000", 3)
px_rect(0, 1024, 22, 1030, "#FFC000", 3)
px_rect(0, 1008, 4, 1030, "#FFC000", 3)
px_rect(2063, 1024, W, 1030, "#FFC000", 3)
px_rect(W-4, 970, W, 1030, "#FFC000", 3)

t = fig.text(33/W, 1-26/H, TITLE, ha="left", va="center", fontweight="bold",
             family=["Lato", "Liberation Sans", "DejaVu Sans"], fontsize=22, color="black", zorder=6)
fig.canvas.draw()
w = t.get_window_extent().width
t.set_fontsize(22*1972/w)

fig.savefig("out.png", dpi=DPI, facecolor="white")
